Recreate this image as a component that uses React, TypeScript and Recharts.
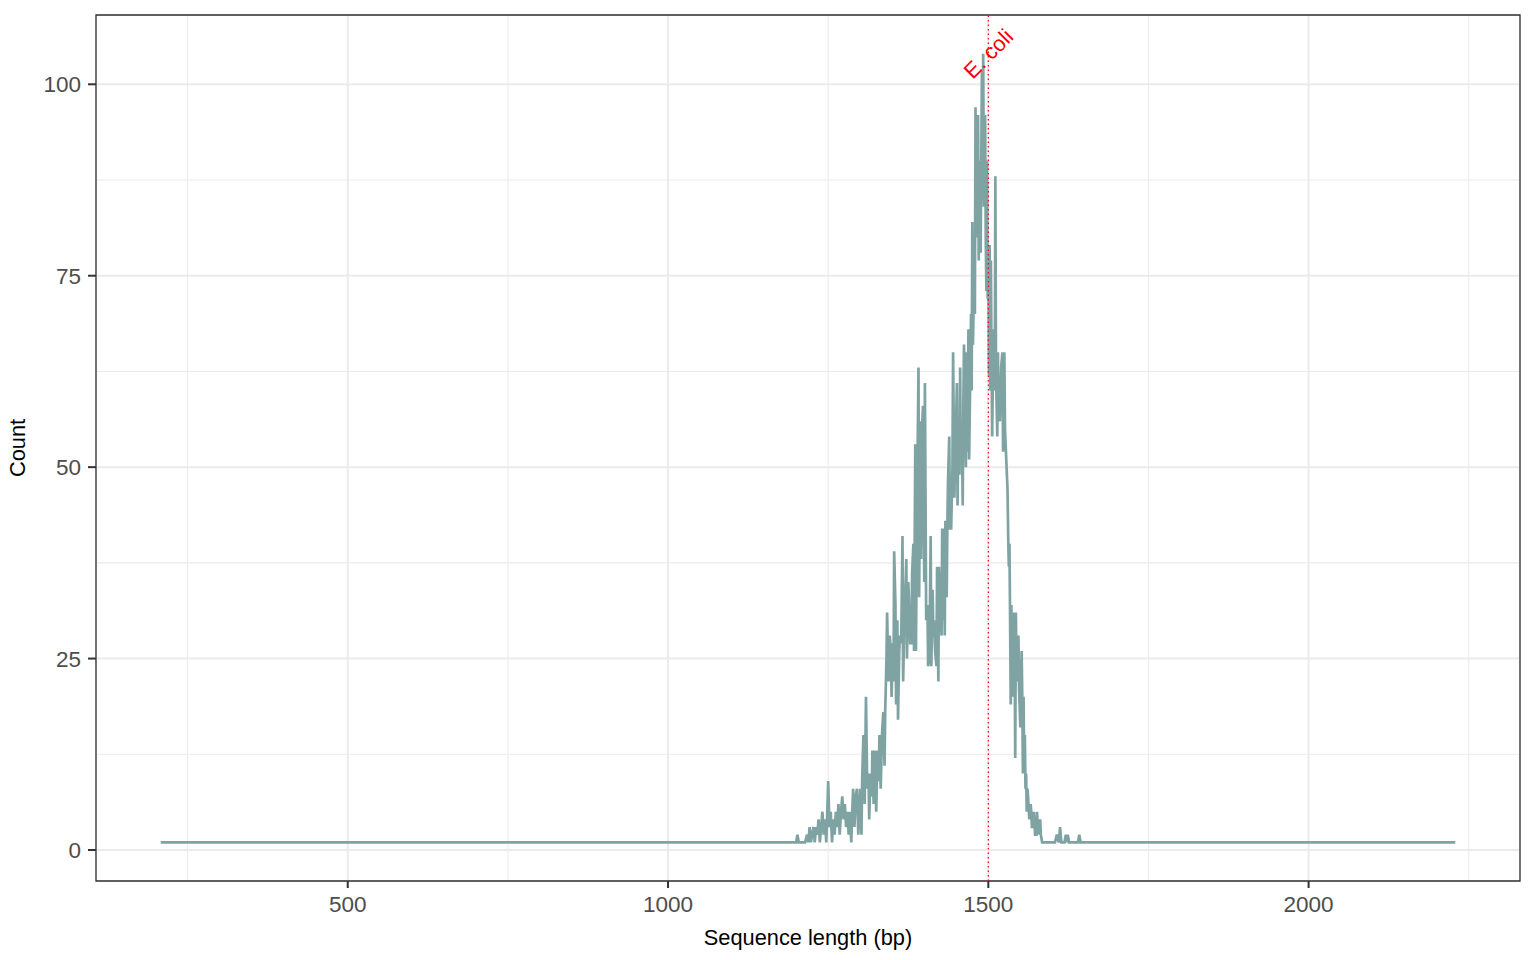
import React from 'react';
import {
  LineChart,
  Line,
  XAxis,
  YAxis,
  CartesianGrid,
  ReferenceLine,
  ReferenceArea,
  ReferenceDot,
} from 'recharts';

// Sequence lengths (bp) and their counts
const lengths: number[] = [
  208, 1200, 1202, 1204, 1214, 1217, 1219, 1221, 1223, 1225, 1227, 1229, 1231, 1233, 1235, 1237, 1239,
  1241, 1243, 1245, 1247, 1249, 1250, 1252, 1254, 1256, 1258, 1260, 1262, 1264, 1266, 1268, 1270,
  1272, 1274, 1276, 1278, 1280, 1282, 1284, 1286, 1288, 1289, 1291, 1293, 1295, 1297, 1299, 1300,
  1302, 1303, 1305, 1307, 1309, 1311, 1313, 1314, 1316, 1318, 1319, 1321, 1323, 1325, 1327, 1329,
  1330, 1332, 1334, 1336, 1338, 1339, 1341, 1342, 1344, 1346, 1347, 1349, 1351, 1352, 1353, 1355,
  1356, 1358, 1359, 1361, 1362, 1364, 1366, 1367, 1369, 1372, 1373, 1375, 1376, 1378, 1380, 1381,
  1383, 1384, 1386, 1387, 1389, 1391, 1392, 1394, 1395, 1397, 1398, 1400, 1401, 1403, 1405, 1406,
  1408, 1410, 1411, 1413, 1414, 1415, 1417, 1419, 1420, 1422, 1423, 1425, 1427, 1428, 1429, 1430,
  1432, 1433, 1435, 1436, 1437, 1439, 1440, 1442, 1444, 1445, 1447, 1448, 1450, 1451, 1452, 1453,
  1455, 1456, 1457, 1459, 1460, 1461, 1462, 1464, 1465, 1466, 1467, 1468, 1469, 1470, 1472, 1473,
  1474, 1475, 1476, 1478, 1479, 1480, 1481, 1483, 1484, 1485, 1487, 1488, 1490, 1491, 1492, 1493,
  1495, 1496, 1497, 1498, 1499, 1500, 1501, 1502, 1503, 1504, 1505, 1506, 1508, 1510, 1511, 1512,
  1514, 1515, 1516, 1518, 1520, 1522, 1523, 1525, 1526, 1528, 1530, 1531, 1532, 1533, 1534, 1535,
  1536, 1537, 1538, 1539, 1540, 1541, 1542, 1543, 1544, 1545, 1546, 1547, 1548, 1550, 1552, 1553,
  1554, 1555, 1556, 1557, 1558, 1559, 1560, 1561, 1562, 1564, 1566, 1567, 1568, 1570, 1571, 1573,
  1575, 1576, 1578, 1579, 1581, 1582, 1584, 1604, 1607, 1610, 1612, 1614, 1617, 1619, 1621, 1623,
  1624, 1626, 1640, 1642, 1644, 2229,
];

const counts: number[] = [
  1, 1, 2, 1, 1, 2, 1, 3, 1, 2, 3, 1, 3, 2, 4, 1, 3,
  5, 2, 4, 1, 6, 9, 3, 5, 1, 4, 2, 5, 3, 6, 2, 5,
  7, 4, 6, 3, 5, 2, 5, 1, 6, 8, 3, 7, 8, 2, 6, 8,
  2, 9, 15, 6, 20, 8, 10, 4, 10, 7, 13, 6, 13, 5, 13, 9,
  15, 8, 15, 18, 11, 18, 25, 31, 22, 28, 27, 20, 27, 22, 39, 32,
  19, 30, 17, 26, 28, 27, 41, 22, 30, 38, 25, 35, 33, 27, 27, 36,
  40, 26, 53, 26, 47, 63, 33, 56, 38, 56, 58, 35, 61, 30, 32, 24,
  25, 41, 24, 34, 29, 30, 26, 24, 37, 22, 37, 31, 28, 42, 30, 42,
  28, 43, 33, 42, 48, 54, 42, 42, 50, 65, 46, 50, 57, 61, 45, 54,
  49, 63, 51, 53, 45, 58, 66, 55, 50, 65, 52, 60, 68, 51, 63, 70,
  60, 82, 66, 76, 70, 97, 80, 86, 96, 77, 90, 78, 102, 85, 104, 84,
  96, 80, 73, 90, 72, 78, 62, 79, 60, 77, 64, 54, 68, 60, 88, 62,
  54, 65, 57, 56, 63, 65, 52, 65, 55, 51, 47, 41, 37, 40, 30, 19,
  32, 26, 20, 31, 23, 27, 12, 31, 24, 27, 22, 28, 21, 16, 26, 20,
  10, 20, 11, 15, 8, 10, 5, 8, 7, 4, 6, 5, 3, 3, 5, 2,
  2, 5, 2, 3, 4, 2, 1, 1, 2, 1, 3, 1, 1, 1, 2, 1,
  2, 1, 1, 2, 1, 1,
];

const xMajorTicks = [500, 1000, 1500, 2000];
const xMinorTicks = [250, 750, 1250, 1750, 2250];
const yMajorTicks = [0, 25, 50, 75, 100];
const yMinorTicks = [12.5, 37.5, 62.5, 87.5];
const xDomain: [number, number] = [107, 2330];
const yDomain: [number, number] = [-4.05, 109.05];
const referenceLength = 1500;
const referenceLabel = 'E. coli';
const referenceLabelY = 104;

const data = lengths.map((len, i) => ({ len, count: counts[i] }));

const FONT = '"Liberation Sans", Arial, Helvetica, sans-serif';

export default function App() {
  return (
    <div style={{ position: 'absolute', left: 0, top: 0, background: '#fff' }}>
      <LineChart
        width={1536}
        height={960}
        data={data}
        margin={{ top: 15, right: 16, bottom: 0, left: 0 }}
        style={{ fontFamily: FONT }}
      >
        <XAxis xAxisId="minor" type="number" dataKey="len" domain={xDomain} ticks={xMinorTicks} hide allowDataOverflow />
        <YAxis yAxisId="minor" type="number" domain={yDomain} ticks={yMinorTicks} hide allowDataOverflow />
        <CartesianGrid xAxisId="minor" yAxisId="minor" stroke="#EBEBEB" strokeWidth={1.1} />
        <CartesianGrid stroke="#EBEBEB" strokeWidth={2} />
        <XAxis
          type="number"
          dataKey="len"
          domain={xDomain}
          ticks={xMajorTicks}
          allowDataOverflow
          height={79}
          axisLine={false}
          tickSize={7}
          tickMargin={8}
          tickLine={{ stroke: '#333333', strokeWidth: 2 }}
          tick={{ fill: '#4D4D4D', fontSize: 22.5, fontFamily: FONT }}
          label={{
            value: 'Sequence length (bp)',
            position: 'insideBottom',
            offset: 15,
            fill: '#000',
            fontSize: 21.8,
            fontFamily: FONT,
          }}
        />
        <YAxis
          type="number"
          domain={yDomain}
          ticks={yMajorTicks}
          allowDataOverflow
          width={96}
          axisLine={false}
          tickSize={8}
          tickMargin={7}
          tickLine={{ stroke: '#333333', strokeWidth: 2 }}
          tick={{ fill: '#4D4D4D', fontSize: 22.5, fontFamily: FONT }}
          label={{
            value: 'Count',
            angle: -90,
            position: 'insideLeft',
            offset: 17,
            fill: '#000',
            fontSize: 21.8,
            fontFamily: FONT,
            style: { textAnchor: 'middle' },
          }}
        />
        <Line
          type="linear"
          dataKey="count"
          stroke="#7FA3A3"
          strokeWidth={2.7}
          dot={false}
          activeDot={false}
          isAnimationActive={false}
        />
        <ReferenceLine
          x={referenceLength}
          stroke="#FF0000"
          strokeWidth={1.2}
          strokeDasharray="1.5 3"
        />
        <ReferenceDot
          x={referenceLength}
          y={referenceLabelY}
          r={0}
          shape={(p: any) => (
            <text
              x={p.cx}
              y={p.cy}
              transform={`rotate(-45 ${p.cx} ${p.cy})`}
              textAnchor="middle"
              dominantBaseline="central"
              fill="#FF0000"
              fontSize={21.8}
              fontFamily={FONT}
            >
              {referenceLabel}
            </text>
          )}
        />
        <ReferenceArea
          x1={xDomain[0]}
          x2={xDomain[1]}
          y1={yDomain[0]}
          y2={yDomain[1]}
          fill="none"
          stroke="#333333"
          strokeWidth={1.3}
          ifOverflow="visible"
        />
      </LineChart>
    </div>
  );
}
